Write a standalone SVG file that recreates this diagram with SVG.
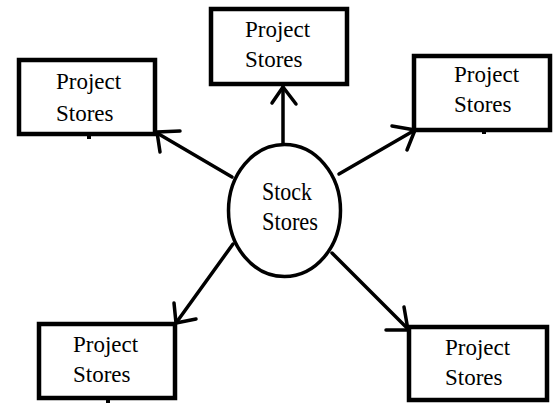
<svg xmlns="http://www.w3.org/2000/svg" width="557" height="403" viewBox="0 0 557 403">
<style>
.box{fill:#fff;stroke:#000;stroke-width:4.5}
.ell{fill:#fff;stroke:#000;stroke-width:3.5}
.t{font-family:"Liberation Serif","Times New Roman",serif;font-size:23px;fill:#000}
.te{font-family:"Liberation Serif","Times New Roman",serif;font-size:25px;fill:#000}
.c{fill:none;stroke:#000;stroke-width:3.5;stroke-linecap:round;stroke-linejoin:round}
.tick{fill:#000}
</style>
<rect x="0" y="0" width="557" height="403" fill="#fff"/>
<g id="connectors">
<line class="c" x1="283" y1="143" x2="283" y2="87"/>
<polyline class="c" points="272,103 283,87 296,104"/>
<line class="c" x1="232" y1="177" x2="157" y2="133"/>
<polyline class="c" points="180,131 157,132 160,152"/>
<line class="c" x1="339" y1="174" x2="415" y2="130"/>
<polyline class="c" points="392,126 415,130 407,150"/>
<line class="c" x1="233" y1="244" x2="176" y2="323"/>
<polyline class="c" points="174,303 176,323 196,319"/>
<line class="c" x1="332" y1="253" x2="409" y2="330"/>
<polyline class="c" points="404,307 408,330 386,330"/>
</g>
<g id="stock">
<ellipse class="ell" cx="284.5" cy="210.5" rx="56" ry="66"/>
<text class="te" x="262" y="200" textLength="50" lengthAdjust="spacingAndGlyphs">Stock</text>
<text class="te" x="262" y="230" textLength="56" lengthAdjust="spacingAndGlyphs">Stores</text>
</g>
<g id="project-top">
<rect class="box" x="211" y="9" width="136" height="75"/>
<text class="t" x="245" y="37">Project</text>
<text class="t" x="245" y="67">Stores</text>
</g>
<g id="project-left">
<rect class="box" x="19" y="60" width="136" height="74"/>
<rect class="tick" x="87" y="136" width="4" height="3"/>
<text class="t" x="56" y="89">Project</text>
<text class="t" x="56" y="121">Stores</text>
</g>
<g id="project-right">
<rect class="box" x="414" y="56" width="136" height="74"/>
<rect class="tick" x="482" y="131" width="4" height="3"/>
<text class="t" x="454" y="82">Project</text>
<text class="t" x="454" y="112">Stores</text>
</g>
<g id="project-bottom-left">
<rect class="box" x="39" y="324" width="136" height="74"/>
<rect class="tick" x="106" y="399" width="4" height="4"/>
<text class="t" x="73" y="352">Project</text>
<text class="t" x="73" y="382">Stores</text>
</g>
<g id="project-bottom-right">
<rect class="box" x="409" y="327" width="138" height="73"/>
<text class="t" x="445" y="355">Project</text>
<text class="t" x="445" y="385">Stores</text>
</g>
</svg>
